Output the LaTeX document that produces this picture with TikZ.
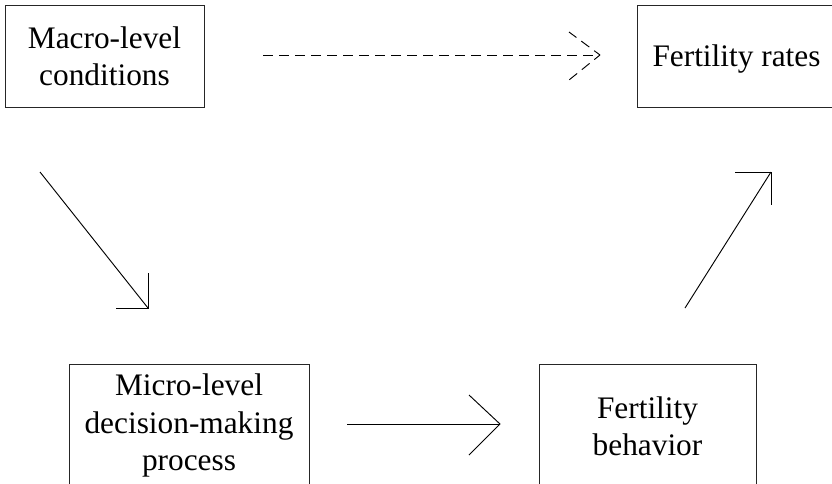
\documentclass[tikz,border=0pt]{standalone}
\usepackage{fontspec}
\setmainfont{Liberation Serif}
\begin{document}
\begin{tikzpicture}[x=0.75pt,y=-0.75pt,
  box/.style={draw=black!85,line width=0.7pt,inner sep=0pt,align=center,
    font=\fontsize{23.5}{28}\selectfont},
  conn/.style={draw=black,line width=0.7pt},
  dconn/.style={draw=black,line width=0.7pt,dash pattern=on 7.5pt off 4.5pt}]
\useasboundingbox (0,0) rectangle (832,483);
\clip (0,0) rectangle (832,483);
\node[box,anchor=west,minimum width=195pt,minimum height=76.5pt,text depth=0pt] (rates) at (637,56) {\makebox[148.5pt]{Fertility rates}\hspace*{46.5pt}};
\node[box,minimum width=149.25pt,minimum height=76.5pt] (macro) at (104.5,56) {Macro-level\\conditions};
\node[box,minimum width=180pt,minimum height=92.25pt] (micro) at (189,425.5) {Micro-level\\decision-making\\process};
\node[box,minimum width=162.75pt,minimum height=93pt] (behav) at (647.5,426) {Fertility\\behavior};
% dashed arrow
\coordinate (d1) at (263,55);
\coordinate (d2) at (600,55);
\draw[dconn] (d1) -- (d2);
\draw[dconn,dash phase=2pt] (d2) -- ++(-31,-23);
\draw[dconn,dash phase=2pt] (d2) -- ++(-31,25);
% diagonal down
\coordinate (a1) at (40,172);
\coordinate (a2) at (148,308);
\draw[conn] (a1) -- (a2);
\draw[conn] (148,273) -- (a2) -- (116,308);
% diagonal up
\coordinate (b1) at (685,308);
\coordinate (b2) at (771,172);
\draw[conn] (b1) -- (b2);
\draw[conn] (735,172) -- (b2) -- (771,205);
% horizontal
\coordinate (h1) at (347,424);
\coordinate (h2) at (500,424);
\draw[conn] (h1) -- (h2);
\draw[conn] (469,395) -- (h2) -- (469,455);
\end{tikzpicture}
\end{document}
